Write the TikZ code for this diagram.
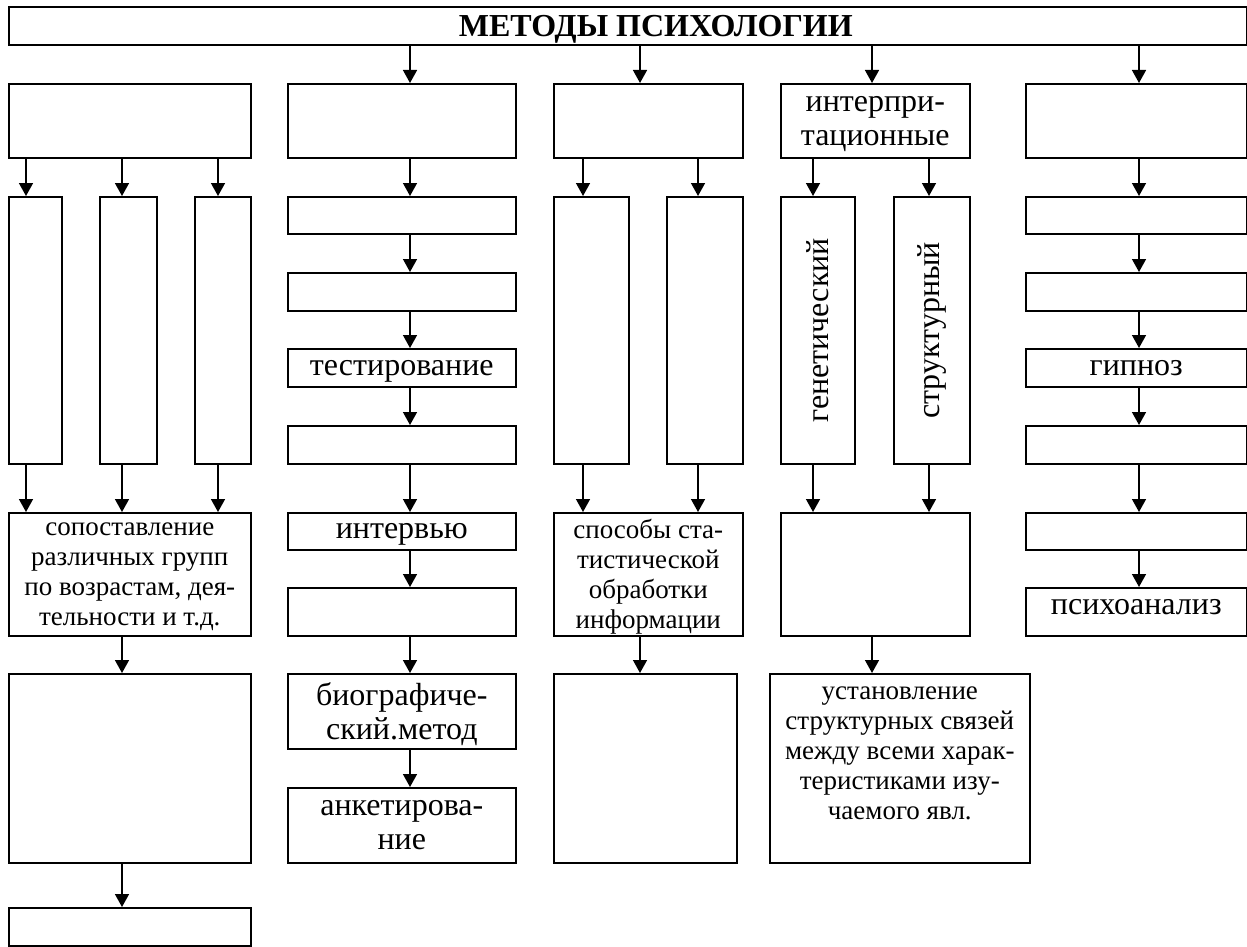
\documentclass[tikz,border=0pt]{standalone}
\usepackage{fontspec}
\setmainfont{Liberation Serif}
\usepackage{tikz}
\usetikzlibrary{arrows.meta}
\tikzstyle{block} = [rectangle, draw=black, line width=1.6pt, anchor=north west, inner sep=0pt, align=center, text depth=0pt, font=\fontsize{32}{34}\selectfont]
\tikzstyle{small} = [font=\fontsize{27}{30}\selectfont]
\tikzstyle{arrow} = [line width=1.5pt, -{Triangle[width=14pt,length=13pt]}]

\begin{document}
\begin{tikzpicture}[x=1pt, y=-1pt]
        \useasboundingbox (0,0) rectangle (1247,947);
        \node (metody) [block, minimum width=1238, minimum height=38] at (8,6) {\textbf{\hspace*{56pt}МЕТОДЫ ПСИХОЛОГИИ}};

        % first row
        \node (ga) [block, minimum width=242, minimum height=74] at (8,83) {};
        \node (gb) [block, minimum width=228, minimum height=74] at (287,83) {};
        \node (gc) [block, minimum width=189, minimum height=74] at (553,83) {};
        \node (interpret) [block, minimum width=189, minimum height=74] at (780,83) {интерпри-\\тационные};
        \node (ge) [block, minimum width=221, minimum height=74] at (1025,83) {};

        % column a
        \node (ga1) [block, minimum width=53, minimum height=267] at (8,196) {};
        \node (ga2) [block, minimum width=57, minimum height=267] at (99,196) {};
        \node (ga3) [block, minimum width=56, minimum height=267] at (194,196) {};
        \node (sopostavlenie) [block, small, minimum width=242, minimum height=123] at (8,512) {сопоставление\\различных групп\\по возрастам, дея-\\тельности и т.д.};
        \node (ga5) [block, minimum width=242, minimum height=189] at (8,673) {};
        \node (ga6) [block, minimum width=242, minimum height=38] at (8,907) {};

        % column b
        \node (gb1) [block, minimum width=228, minimum height=37] at (287,196) {};
        \node (gb2) [block, minimum width=228, minimum height=38] at (287,272) {};
        \node (testirovanie) [block, minimum width=228, minimum height=38] at (287,348) {тестирование};
        \node (gb4) [block, minimum width=228, minimum height=38] at (287,425) {};
        \node (intervyu) [block, minimum width=228, minimum height=37] at (287,512) {интервью};
        \node (gb6) [block, minimum width=228, minimum height=48] at (287,587) {};
        \node (biograf) [block, minimum width=228, minimum height=75] at (287,673) {биографиче-\\ский.метод};
        \node (anketa) [block, minimum width=228, minimum height=75] at (287,787) {анкетирова-\\ние};

        % column c
        \node (gc1) [block, minimum width=75, minimum height=267] at (553,196) {};
        \node (gc2) [block, minimum width=76, minimum height=267] at (666,196) {};
        \node (statistika) [block, small, minimum width=189, minimum height=123] at (553,512) {способы ста-\\тистической\\обработки\\информации};
        \node (gc4) [block, minimum width=183, minimum height=189] at (553,673) {};

        % column d
        \node (genetich) [block, minimum width=74, minimum height=267] at (780,196) {\rotatebox{90}{генетический}};
        \node (struktur) [block, minimum width=76, minimum height=267] at (893,196) {\rotatebox{90}{структурный}};
        \node (gd3) [block, minimum width=189, minimum height=123] at (780,512) {};
        \node (ustanovlenie) [block, small, minimum width=260, minimum height=189] at (769,673) {установление\\структурных связей\\между всеми харак-\\теристиками изу-\\чаемого явл.\\\strut};

        % column e
        \node (ge1) [block, minimum width=221, minimum height=37] at (1025,196) {};
        \node (ge2) [block, minimum width=221, minimum height=38] at (1025,272) {};
        \node (gipnoz) [block, minimum width=221, minimum height=38] at (1025,348) {гипноз};
        \node (ge4) [block, minimum width=221, minimum height=38] at (1025,425) {};
        \node (ge5) [block, minimum width=221, minimum height=37] at (1025,512) {};
        \node (psihoanaliz) [block, text depth=10pt, minimum width=221, minimum height=48] at (1025,587) {психоанализ};

        % arrow columns
        \coordinate (xa1) at (26,0);
        \coordinate (xa2) at (122,0);
        \coordinate (xa3) at (218,0);
        \coordinate (xb) at (410,0);
        \coordinate (xc1) at (583,0);
        \coordinate (xc) at (640,0);
        \coordinate (xc2) at (698,0);
        \coordinate (xd1) at (813,0);
        \coordinate (xd) at (872,0);
        \coordinate (xd2) at (929,0);
        \coordinate (xe) at (1139,0);

        \draw [arrow] (metody.south -| xb) -- (gb.north -| xb);
        \draw [arrow] (metody.south -| xc) -- (gc.north -| xc);
        \draw [arrow] (metody.south -| xd) -- (interpret.north -| xd);
        \draw [arrow] (metody.south -| xe) -- (ge.north -| xe);

        \draw [arrow] (ga.south -| xa1) -- (ga1.north -| xa1);
        \draw [arrow] (ga.south -| xa2) -- (ga2.north -| xa2);
        \draw [arrow] (ga.south -| xa3) -- (ga3.north -| xa3);
        \draw [arrow] (ga1.south -| xa1) -- (sopostavlenie.north -| xa1);
        \draw [arrow] (ga2.south -| xa2) -- (sopostavlenie.north -| xa2);
        \draw [arrow] (ga3.south -| xa3) -- (sopostavlenie.north -| xa3);
        \draw [arrow] (sopostavlenie.south -| xa2) -- (ga5.north -| xa2);
        \draw [arrow] (ga5.south -| xa2) -- (ga6.north -| xa2);

        \draw [arrow] (gb.south -| xb) -- (gb1.north -| xb);
        \draw [arrow] (gb1.south -| xb) -- (gb2.north -| xb);
        \draw [arrow] (gb2.south -| xb) -- (testirovanie.north -| xb);
        \draw [arrow] (testirovanie.south -| xb) -- (gb4.north -| xb);
        \draw [arrow] (gb4.south -| xb) -- (intervyu.north -| xb);
        \draw [arrow] (intervyu.south -| xb) -- (gb6.north -| xb);
        \draw [arrow] (gb6.south -| xb) -- (biograf.north -| xb);
        \draw [arrow] (biograf.south -| xb) -- (anketa.north -| xb);

        \draw [arrow] (gc.south -| xc1) -- (gc1.north -| xc1);
        \draw [arrow] (gc.south -| xc2) -- (gc2.north -| xc2);
        \draw [arrow] (gc1.south -| xc1) -- (statistika.north -| xc1);
        \draw [arrow] (gc2.south -| xc2) -- (statistika.north -| xc2);
        \draw [arrow] (statistika.south -| xc) -- (gc4.north -| xc);

        \draw [arrow] (interpret.south -| xd1) -- (genetich.north -| xd1);
        \draw [arrow] (interpret.south -| xd2) -- (struktur.north -| xd2);
        \draw [arrow] (genetich.south -| xd1) -- (gd3.north -| xd1);
        \draw [arrow] (struktur.south -| xd2) -- (gd3.north -| xd2);
        \draw [arrow] (gd3.south -| xd) -- (ustanovlenie.north -| xd);

        \draw [arrow] (ge.south -| xe) -- (ge1.north -| xe);
        \draw [arrow] (ge1.south -| xe) -- (ge2.north -| xe);
        \draw [arrow] (ge2.south -| xe) -- (gipnoz.north -| xe);
        \draw [arrow] (gipnoz.south -| xe) -- (ge4.north -| xe);
        \draw [arrow] (ge4.south -| xe) -- (ge5.north -| xe);
        \draw [arrow] (ge5.south -| xe) -- (psihoanaliz.north -| xe);
    \end{tikzpicture}
\end{document}
